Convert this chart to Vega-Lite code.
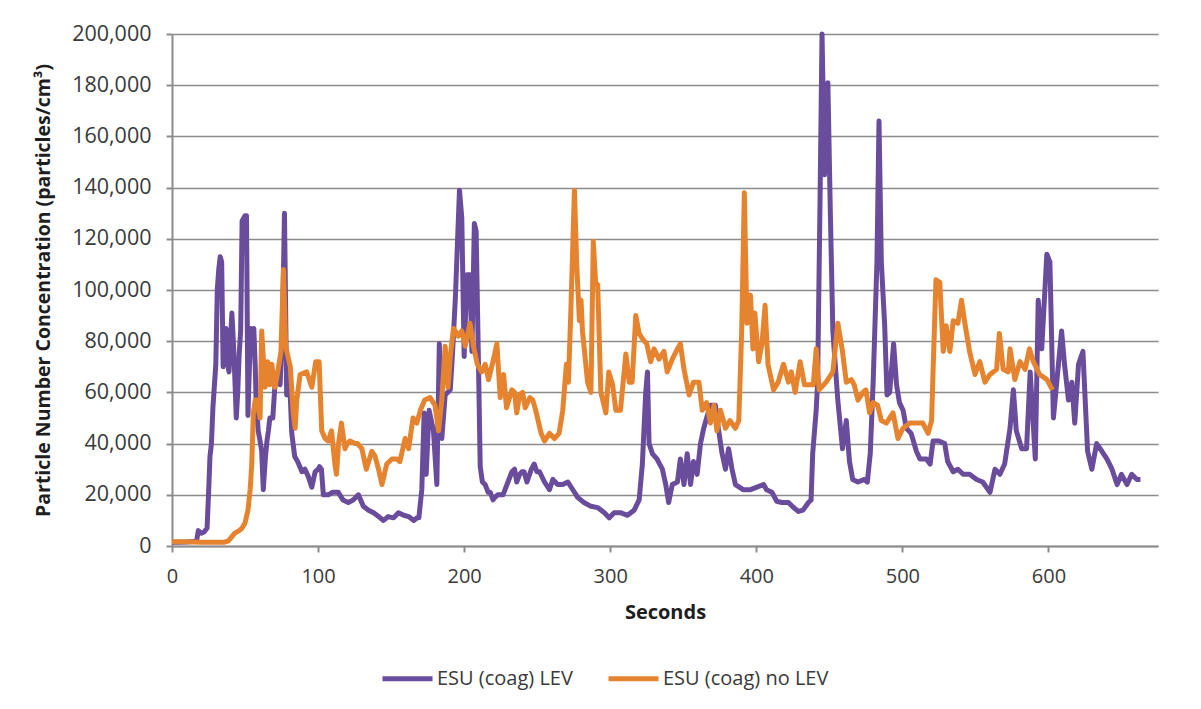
{
  "$schema": "https://vega.github.io/schema/vega-lite/v6.json",
  "width": 986,
  "height": 512,
  "autosize": {"type": "none"},
  "padding": {"left": 172, "top": 34, "right": 43, "bottom": 163},
  "background": "white",
  "config": {
    "font": "Open Sans",
    "view": {"stroke": null},
    "axis": {
      "domainColor": "#8c8c8c",
      "domainWidth": 2,
      "tickColor": "#8c8c8c",
      "tickWidth": 2,
      "tickSize": 6,
      "gridColor": "#8c8c8c",
      "gridWidth": 1.6,
      "labelColor": "#3a3a3a",
      "labelFontSize": 20,
      "titleColor": "#1e1e1e",
      "titleFontWeight": "bold"
    }
  },
  "datasets": {
    "lev": [
      {"t":0,"v":1500},{"t":5,"v":1500},{"t":10,"v":1600},{"t":15,"v":1800},{"t":17,"v":2500},{"t":18,"v":6000},{"t":20,"v":5000},{"t":22,"v":5500},{"t":24,"v":7000},{"t":25,"v":20000},{"t":26,"v":35000},{"t":27,"v":40000},{"t":28,"v":54000},{"t":30,"v":71000},{"t":31,"v":100000},{"t":32,"v":108000},{"t":33,"v":113000},{"t":34,"v":111000},{"t":35,"v":70000},{"t":36,"v":78000},{"t":37,"v":85000},{"t":38,"v":72000},{"t":39,"v":68000},{"t":40,"v":80000},{"t":41,"v":91000},{"t":42,"v":80000},{"t":43,"v":66000},{"t":44,"v":50000},{"t":45,"v":60000},{"t":46,"v":75000},{"t":47,"v":84000},{"t":48,"v":127000},{"t":49,"v":128000},{"t":50,"v":129000},{"t":51,"v":129000},{"t":52,"v":51000},{"t":53,"v":70000},{"t":54,"v":85000},{"t":55,"v":80000},{"t":56,"v":85000},{"t":57,"v":70000},{"t":57.5,"v":58000},{"t":59,"v":45000},{"t":60,"v":42000},{"t":61.4,"v":37000},{"t":62.5,"v":22000},{"t":64,"v":35000},{"t":65,"v":41000},{"t":66,"v":45000},{"t":67,"v":50000},{"t":69,"v":50000},{"t":70.5,"v":63000},{"t":72,"v":65000},{"t":74,"v":63000},{"t":75.6,"v":84000},{"t":77,"v":130000},{"t":78.5,"v":59000},{"t":80,"v":62000},{"t":81,"v":58000},{"t":82,"v":44000},{"t":84,"v":35000},{"t":86,"v":33000},{"t":89,"v":29000},{"t":91,"v":30000},{"t":93.4,"v":27000},{"t":95.7,"v":23000},{"t":98,"v":29000},{"t":100,"v":30000},{"t":101,"v":31000},{"t":102.3,"v":30000},{"t":103.6,"v":20000},{"t":107,"v":20000},{"t":110,"v":21000},{"t":113.8,"v":21000},{"t":117,"v":18000},{"t":120.7,"v":17000},{"t":124,"v":18000},{"t":127.6,"v":20000},{"t":131,"v":15500},{"t":134.5,"v":14000},{"t":138,"v":13000},{"t":141.4,"v":11500},{"t":144.8,"v":10000},{"t":148,"v":11500},{"t":151.7,"v":11000},{"t":155,"v":13000},{"t":158.6,"v":12000},{"t":162,"v":11500},{"t":165.5,"v":10000},{"t":167.8,"v":11000},{"t":169,"v":11000},{"t":171,"v":22000},{"t":172.6,"v":52000},{"t":174,"v":28000},{"t":176,"v":53000},{"t":179,"v":45000},{"t":181.3,"v":24000},{"t":183,"v":79000},{"t":184.7,"v":42000},{"t":187,"v":59000},{"t":190.5,"v":61000},{"t":192,"v":75000},{"t":194,"v":97000},{"t":196.8,"v":139000},{"t":198.4,"v":128000},{"t":200,"v":74000},{"t":201.9,"v":106000},{"t":204,"v":106000},{"t":205.3,"v":76000},{"t":207,"v":126000},{"t":208.2,"v":123000},{"t":210,"v":65000},{"t":211,"v":31000},{"t":212.5,"v":25000},{"t":214.4,"v":24000},{"t":216.4,"v":21000},{"t":217.8,"v":21000},{"t":219.8,"v":18000},{"t":221,"v":19000},{"t":223,"v":20000},{"t":226.6,"v":20000},{"t":230,"v":25000},{"t":232.7,"v":29000},{"t":234.5,"v":30000},{"t":236,"v":25000},{"t":238,"v":28000},{"t":239.5,"v":29000},{"t":241,"v":29000},{"t":243,"v":25000},{"t":246,"v":30000},{"t":248,"v":32000},{"t":249.8,"v":29000},{"t":251.6,"v":29000},{"t":255,"v":25000},{"t":258.4,"v":22000},{"t":260.7,"v":26000},{"t":264,"v":24000},{"t":267.5,"v":24000},{"t":271,"v":25000},{"t":275.5,"v":21000},{"t":277.7,"v":19000},{"t":282,"v":17000},{"t":286.8,"v":15500},{"t":291.4,"v":15000},{"t":296,"v":13000},{"t":299.3,"v":11000},{"t":302.7,"v":13000},{"t":307,"v":13000},{"t":311.8,"v":12000},{"t":316.4,"v":14000},{"t":319.8,"v":18000},{"t":322,"v":32000},{"t":324.3,"v":60000},{"t":325.5,"v":68000},{"t":326.6,"v":40000},{"t":328.9,"v":36000},{"t":332,"v":34000},{"t":335.7,"v":30000},{"t":338,"v":24000},{"t":340,"v":17000},{"t":342.5,"v":24000},{"t":346,"v":25000},{"t":348,"v":34000},{"t":350.5,"v":24000},{"t":352.7,"v":36000},{"t":355,"v":24000},{"t":357,"v":33000},{"t":359.5,"v":28000},{"t":361.8,"v":40000},{"t":364,"v":46000},{"t":366,"v":50000},{"t":368.6,"v":55000},{"t":372,"v":55000},{"t":374,"v":46000},{"t":376.6,"v":36000},{"t":378.9,"v":30000},{"t":381,"v":38000},{"t":383.4,"v":30000},{"t":385.7,"v":24000},{"t":391,"v":22000},{"t":396,"v":22000},{"t":400.5,"v":23000},{"t":405,"v":24000},{"t":407,"v":22000},{"t":410.7,"v":21000},{"t":414,"v":17500},{"t":417.5,"v":17000},{"t":422,"v":17000},{"t":425.5,"v":15000},{"t":428.9,"v":13500},{"t":432,"v":14000},{"t":435.7,"v":17000},{"t":437.5,"v":18000},{"t":438.6,"v":36000},{"t":441,"v":53000},{"t":442,"v":64000},{"t":443.7,"v":138000},{"t":445,"v":200000},{"t":446.7,"v":145000},{"t":449,"v":181000},{"t":450.6,"v":133000},{"t":452.4,"v":84000},{"t":455.8,"v":57000},{"t":459,"v":38000},{"t":461.6,"v":49000},{"t":463.8,"v":33000},{"t":466,"v":26000},{"t":469.6,"v":25000},{"t":474,"v":26000},{"t":476,"v":25000},{"t":478,"v":36000},{"t":480,"v":64000},{"t":482.6,"v":111000},{"t":484,"v":166000},{"t":485.6,"v":111000},{"t":487.9,"v":86000},{"t":489.5,"v":59000},{"t":491.3,"v":60000},{"t":494,"v":79000},{"t":496,"v":63000},{"t":498,"v":56000},{"t":500.5,"v":53000},{"t":502.7,"v":46000},{"t":506,"v":44000},{"t":509.6,"v":37000},{"t":512,"v":34000},{"t":516.5,"v":34000},{"t":519,"v":32000},{"t":521,"v":41000},{"t":525,"v":41000},{"t":529,"v":40000},{"t":531,"v":33000},{"t":534.8,"v":29000},{"t":538,"v":30000},{"t":541.6,"v":28000},{"t":546,"v":28000},{"t":550.8,"v":26000},{"t":555,"v":25000},{"t":560,"v":21000},{"t":563.4,"v":30000},{"t":566.8,"v":28000},{"t":570,"v":32000},{"t":573.7,"v":46000},{"t":576,"v":61000},{"t":578,"v":45000},{"t":581.7,"v":38000},{"t":585,"v":38000},{"t":587.5,"v":68000},{"t":591,"v":34000},{"t":593,"v":96000},{"t":595.4,"v":77000},{"t":598.9,"v":114000},{"t":601,"v":111000},{"t":603.4,"v":50000},{"t":607,"v":72000},{"t":609,"v":84000},{"t":611,"v":71000},{"t":613.7,"v":57000},{"t":616,"v":64000},{"t":618,"v":48000},{"t":620.6,"v":71000},{"t":623.6,"v":76000},{"t":626.8,"v":37000},{"t":629.7,"v":30000},{"t":633,"v":40000},{"t":636.6,"v":37000},{"t":640,"v":34000},{"t":643.5,"v":30000},{"t":647,"v":24000},{"t":650,"v":28000},{"t":653.8,"v":24000},{"t":657,"v":28000},{"t":660.6,"v":26000},{"t":663,"v":26000}
    ],
    "nolev": [
      {"t":0,"v":1700},{"t":10,"v":1700},{"t":20,"v":1500},{"t":30,"v":1500},{"t":36,"v":1500},{"t":38.6,"v":2000},{"t":43,"v":5000},{"t":46,"v":6000},{"t":48,"v":7000},{"t":50,"v":9000},{"t":52,"v":14000},{"t":53.5,"v":22000},{"t":54.6,"v":32000},{"t":55.7,"v":52000},{"t":57,"v":57000},{"t":58,"v":57000},{"t":60.3,"v":50000},{"t":61.4,"v":84000},{"t":63.7,"v":62000},{"t":65.5,"v":72000},{"t":67,"v":63000},{"t":68.3,"v":71000},{"t":70.5,"v":62000},{"t":72.4,"v":68000},{"t":74.6,"v":76000},{"t":76.3,"v":108000},{"t":77.8,"v":78000},{"t":79,"v":75000},{"t":81,"v":70000},{"t":83,"v":52000},{"t":84.3,"v":46000},{"t":85.4,"v":57000},{"t":87.7,"v":67000},{"t":92.2,"v":68000},{"t":95.7,"v":62000},{"t":98.4,"v":72000},{"t":100.7,"v":72000},{"t":102.5,"v":45000},{"t":104.8,"v":42000},{"t":107,"v":41000},{"t":109.2,"v":45000},{"t":111.5,"v":32000},{"t":112.6,"v":28000},{"t":114,"v":40000},{"t":116,"v":48000},{"t":118.4,"v":38000},{"t":120,"v":40000},{"t":121.8,"v":41000},{"t":125.3,"v":40000},{"t":127,"v":40000},{"t":130,"v":38000},{"t":133,"v":30000},{"t":136.8,"v":37000},{"t":139,"v":35000},{"t":141.4,"v":30000},{"t":143.7,"v":24000},{"t":147,"v":32000},{"t":150.6,"v":34000},{"t":154,"v":34000},{"t":156,"v":33000},{"t":159.6,"v":42000},{"t":162,"v":38000},{"t":165,"v":50000},{"t":167.6,"v":48000},{"t":170,"v":53000},{"t":173,"v":57000},{"t":176.7,"v":58000},{"t":180,"v":55000},{"t":182.5,"v":45000},{"t":184.7,"v":57000},{"t":187,"v":78000},{"t":189,"v":62000},{"t":190.5,"v":74000},{"t":192.7,"v":85000},{"t":196,"v":82000},{"t":198.4,"v":84000},{"t":200.7,"v":78000},{"t":204,"v":87000},{"t":206.4,"v":78000},{"t":209,"v":71000},{"t":212,"v":68000},{"t":214.4,"v":71000},{"t":216.7,"v":65000},{"t":219.7,"v":72000},{"t":222.4,"v":79000},{"t":224.7,"v":58000},{"t":227,"v":67000},{"t":229,"v":54000},{"t":232.7,"v":61000},{"t":234.5,"v":60000},{"t":236,"v":52000},{"t":238,"v":59000},{"t":240,"v":60000},{"t":241.8,"v":54000},{"t":245,"v":58000},{"t":247,"v":57000},{"t":249,"v":53000},{"t":252.7,"v":44000},{"t":255,"v":41000},{"t":258.4,"v":44000},{"t":261.8,"v":42000},{"t":265,"v":44000},{"t":267.5,"v":53000},{"t":270,"v":71000},{"t":271.4,"v":64000},{"t":273,"v":91000},{"t":275.5,"v":139000},{"t":277,"v":111000},{"t":278.9,"v":88000},{"t":280,"v":96000},{"t":281,"v":84000},{"t":284.5,"v":64000},{"t":286.8,"v":60000},{"t":288.4,"v":119000},{"t":290,"v":103000},{"t":291.4,"v":102000},{"t":293.6,"v":60000},{"t":297,"v":52000},{"t":299,"v":68000},{"t":301.6,"v":63000},{"t":303.9,"v":53000},{"t":307,"v":53000},{"t":310.7,"v":75000},{"t":313,"v":64000},{"t":315,"v":64000},{"t":317.5,"v":90000},{"t":319.8,"v":83000},{"t":322,"v":81000},{"t":325,"v":79000},{"t":327.7,"v":72000},{"t":330,"v":77000},{"t":333.4,"v":73000},{"t":336.8,"v":76000},{"t":339,"v":68000},{"t":342.5,"v":73000},{"t":346,"v":77000},{"t":348,"v":79000},{"t":350.5,"v":69000},{"t":354,"v":59000},{"t":357,"v":64000},{"t":360.7,"v":64000},{"t":363,"v":53000},{"t":366,"v":56000},{"t":368.6,"v":48000},{"t":371,"v":55000},{"t":373,"v":45000},{"t":375.5,"v":53000},{"t":378.9,"v":46000},{"t":382,"v":49000},{"t":385.7,"v":46000},{"t":388,"v":49000},{"t":390,"v":84000},{"t":391.8,"v":138000},{"t":393.6,"v":87000},{"t":396,"v":98000},{"t":397.7,"v":77000},{"t":399,"v":91000},{"t":401.6,"v":72000},{"t":403.9,"v":79000},{"t":406,"v":94000},{"t":408,"v":71000},{"t":411.8,"v":61000},{"t":415,"v":64000},{"t":418.6,"v":71000},{"t":422,"v":64000},{"t":424,"v":68000},{"t":426.6,"v":60000},{"t":430,"v":72000},{"t":433,"v":63000},{"t":436.8,"v":63000},{"t":439,"v":63000},{"t":441,"v":77000},{"t":443,"v":61000},{"t":447.8,"v":64000},{"t":452.4,"v":68000},{"t":455.8,"v":87000},{"t":459,"v":76000},{"t":461.6,"v":64000},{"t":465,"v":65000},{"t":467,"v":63000},{"t":469.6,"v":57000},{"t":473,"v":60000},{"t":475,"v":61000},{"t":477.6,"v":52000},{"t":480,"v":56000},{"t":483,"v":55000},{"t":485.6,"v":49000},{"t":489,"v":48000},{"t":493.6,"v":52000},{"t":497,"v":42000},{"t":500.5,"v":46000},{"t":505,"v":48000},{"t":509.6,"v":48000},{"t":514,"v":48000},{"t":517.6,"v":44000},{"t":520,"v":49000},{"t":521,"v":68000},{"t":523,"v":104000},{"t":525.6,"v":103000},{"t":528,"v":76000},{"t":530,"v":86000},{"t":532.5,"v":76000},{"t":534.8,"v":88000},{"t":538,"v":87000},{"t":540.5,"v":96000},{"t":542.8,"v":87000},{"t":546,"v":76000},{"t":549.7,"v":67000},{"t":553,"v":72000},{"t":556.5,"v":64000},{"t":560,"v":67000},{"t":564.5,"v":69000},{"t":566.4,"v":83000},{"t":569,"v":69000},{"t":572.5,"v":68000},{"t":573.7,"v":77000},{"t":577,"v":65000},{"t":580.5,"v":72000},{"t":584,"v":69000},{"t":587,"v":77000},{"t":589.7,"v":72000},{"t":594,"v":67000},{"t":599,"v":65000},{"t":602.7,"v":61000}
    ]
  },
  "encoding": {
    "x": {
      "field": "t",
      "type": "quantitative",
      "scale": {"domain": [0, 675], "nice": false, "zero": false},
      "axis": {
        "values": [0, 100, 200, 300, 400, 500, 600],
        "grid": false,
        "title": "Seconds",
        "titleFontSize": 20,
        "titlePadding": 16,
        "labelPadding": 14,
        "labelFlush": false
      }
    },
    "y": {
      "field": "v",
      "type": "quantitative",
      "scale": {"domain": [0, 200000], "nice": false},
      "axis": {
        "values": [0, 20000, 40000, 60000, 80000, 100000, 120000, 140000, 160000, 180000, 200000],
        "format": ",.0f",
        "grid": true,
        "title": "Particle Number Concentration (particles/cm³)",
        "titleFontSize": 19.5,
        "titlePadding": 18,
        "labelFontSize": 21.5,
        "labelPadding": 15
      }
    },
    "color": {
      "scale": {"domain": ["ESU (coag) LEV", "ESU (coag) no LEV"], "range": ["#6A4C9C", "#E6832F"]},
      "legend": {
        "orient": "none",
        "legendX": 208,
        "legendY": 617,
        "direction": "horizontal",
        "title": null,
        "symbolType": "stroke",
        "symbolSize": 2500,
        "symbolStrokeWidth": 5,
        "labelFontSize": 20,
        "labelLimit": 400,
        "labelColor": "#3a3a3a",
        "labelOffset": 2,
        "columnPadding": 25
      }
    }
  },
  "layer": [
    {
      "data": {"name": "lev"},
      "mark": {"type": "line", "strokeWidth": 5, "strokeJoin": "round"},
      "encoding": {"color": {"datum": "ESU (coag) LEV"}}
    },
    {
      "data": {"name": "nolev"},
      "mark": {"type": "line", "strokeWidth": 5, "strokeJoin": "round"},
      "encoding": {"color": {"datum": "ESU (coag) no LEV"}}
    }
  ]
}
